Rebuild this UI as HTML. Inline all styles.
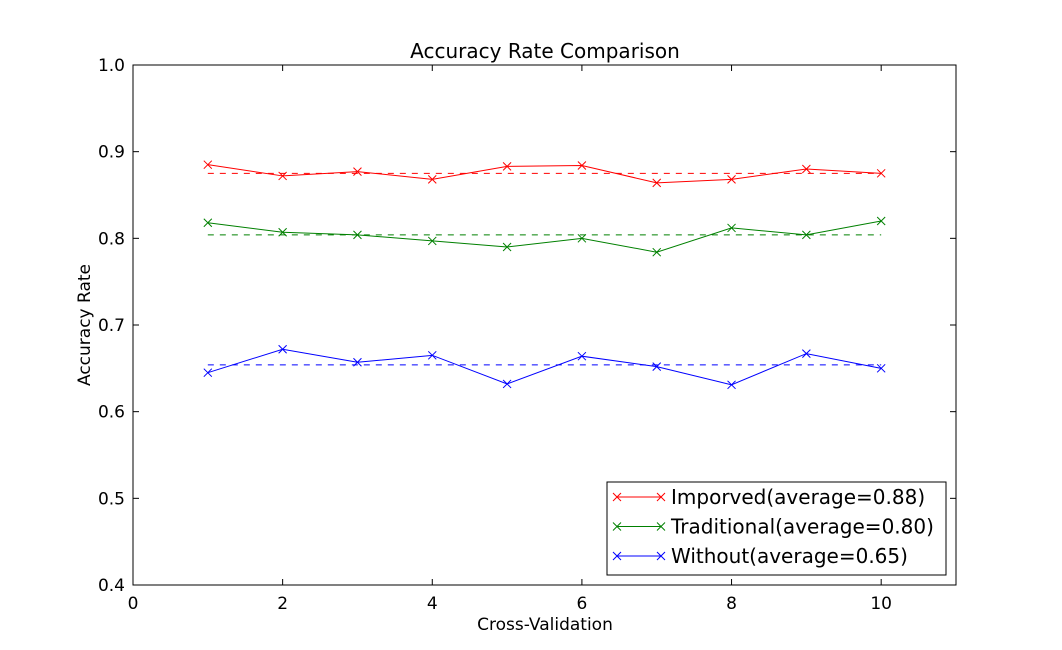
<!DOCTYPE html>
<html><head><meta charset="utf-8"><style>
body{margin:0;background:#fff;}
svg{display:block;font-family:"DejaVu Sans","Liberation Sans",sans-serif;}
</style></head><body>
<svg id="chart" width="1062" height="650"></svg>
<script>
const categories=[1,2,3,4,5,6,7,8,9,10];
const improved=[0.885,0.872,0.877,0.868,0.883,0.884,0.864,0.868,0.880,0.875];
const traditional=[0.818,0.807,0.804,0.797,0.790,0.800,0.784,0.812,0.804,0.820];
const without=[0.645,0.672,0.657,0.665,0.632,0.664,0.652,0.631,0.667,0.650];
const averages=[0.875,0.804,0.654];
const xTicks=[0,2,4,6,8,10];
const yTicks=[0.4,0.5,0.6,0.7,0.8,0.9,1.0];
const legendLabels=["Imporved(average=0.88)","Traditional(average=0.80)","Without(average=0.65)"];
const colors=["#ff0000","#008000","#0000ff"];

const L=133,R=956,T=65,B=585;
const xs=v=>L+(v-0)/(11-0)*(R-L);
const ys=v=>B-(v-0.4)/(0.6)*(B-T);
const NS="http://www.w3.org/2000/svg";
const svg=document.getElementById('chart');
function mk(tag,attrs,parent){const e=document.createElementNS(NS,tag);for(const k in attrs)e.setAttribute(k,attrs[k]);(parent||svg).appendChild(e);return e;}

let t=mk('text',{x:545,y:58,'text-anchor':'middle','font-size':20});t.textContent="Accuracy Rate Comparison";

t=mk('text',{x:545,y:630,'text-anchor':'middle','font-size':17});t.textContent="Cross-Validation";

t=mk('text',{x:90,y:325,'text-anchor':'middle','font-size':17,transform:'rotate(-90 90 325)'});t.textContent="Accuracy Rate";


xTicks.forEach(v=>{const x=xs(v);
 mk('line',{x1:x,x2:x,y1:B,y2:B-6,stroke:'#000'});mk('line',{x1:x,x2:x,y1:T,y2:T+6,stroke:'#000'});
 const tt=mk('text',{x:x,y:B+24,'text-anchor':'middle','font-size':17});tt.textContent=v;
 });
yTicks.forEach(v=>{const y=ys(v);
 mk('line',{x1:L,x2:L+6,y1:y,y2:y,stroke:'#000'});mk('line',{x1:R,x2:R-6,y1:y,y2:y,stroke:'#000'});
 const tt=mk('text',{x:L-8,y:y+6,'text-anchor':'end','font-size':17});tt.textContent=v.toFixed(1);
 });

const series=[improved,traditional,without];
const names=['improved','traditional','without'];
series.forEach((s,i)=>{
 const g=mk('g',{});
 
 const ay=ys(averages[i]);
 const d=mk('line',{x1:xs(categories[0]),x2:xs(categories[categories.length-1]),y1:ay,y2:ay,stroke:colors[i],'stroke-dasharray':'6,6'},g);
 
 mk('polyline',{points:s.map((v,j)=>xs(categories[j])+','+ys(v)).join(' '),fill:'none',stroke:colors[i]},g);
 s.forEach((v,j)=>{const x=xs(categories[j]),y=ys(v);
  const m=mk('path',{d:`M${x-4},${y-4}L${x+4},${y+4}M${x-4},${y+4}L${x+4},${y-4}`,stroke:colors[i]},g);
  });
});
mk('rect',{x:L,y:T,width:R-L,height:B-T,fill:'none',stroke:'#000'});

const lg=mk('g',{});

mk('rect',{x:607,y:482,width:339,height:93,fill:'#fff',stroke:'#000'},lg);
legendLabels.forEach((lab,i)=>{const y=497+i*29.5;
 const e=mk('g',{},lg);
 
 mk('line',{x1:617,x2:661,y1:y,y2:y,stroke:colors[i]},e);
 [617,661].forEach(x=>mk('path',{d:`M${x-4},${y-4}L${x+4},${y+4}M${x-4},${y+4}L${x+4},${y-4}`,stroke:colors[i]},e));
 const tt=mk('text',{x:671,y:y+7,'font-size':20},e);tt.textContent=lab;});
</script>
</body></html>
